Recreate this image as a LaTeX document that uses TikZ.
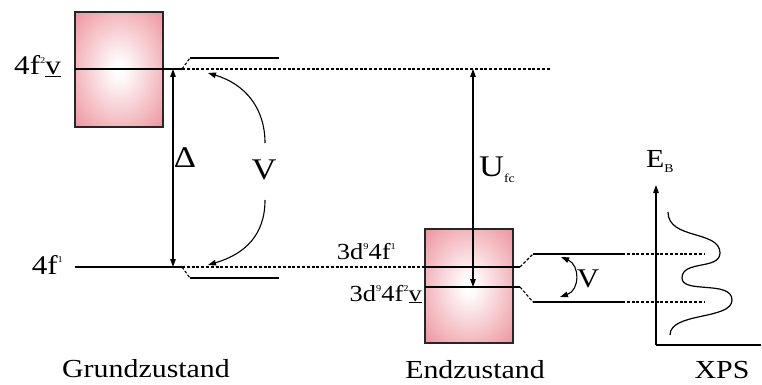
\documentclass[tikz,border=0pt]{standalone}
\usepackage{fontspec}
\setmainfont{Liberation Serif}[FakeStretch=1.15]
\usetikzlibrary{arrows.meta}
\definecolor{pinkc}{RGB}{237,146,156}
\pgfdeclareradialshading{boxglow}{\pgfpoint{0bp}{0bp}}{color(0bp)=(white); color(4bp)=(white!96!pinkc); color(36bp)=(pinkc); color(50bp)=(pinkc)}
\newcommand\hsup[1]{\raisebox{0.42em}{\fontsize{9}{9}\selectfont #1}}
\newcommand\hsub[1]{\raisebox{-0.2em}{\fontsize{12}{12}\selectfont #1}}
\begin{document}
\begin{tikzpicture}[x=1pt,y=-1pt,
  lvl/.style={line width=1.2pt},
  dsh/.style={line width=1.1pt, dash pattern=on 3pt off 1.8pt},
  arr/.style={line width=1.1pt, -{Triangle[length=8pt,width=5.5pt]}},
  darr/.style={line width=1.1pt, {Triangle[length=8pt,width=5.5pt]}-{Triangle[length=8pt,width=5.5pt]}},
  band/.style={shade, shading=boxglow, draw=black!85, line width=1.2pt},
  lbl/.style={inner sep=0pt, font=\fontsize{23}{26}\selectfont},
  lblg/.style={inner sep=0pt, font=\fontsize{27}{30}\selectfont},
  big/.style={inner sep=0pt, font=\fontsize{26}{30}\selectfont},
  sym/.style={inner sep=0pt, font=\fontsize{30}{33}\selectfont}]
\useasboundingbox (0,0) rectangle (762,385);
% bands
\path[band] (75,12) rectangle (163,127);
\path[band] (425,229) rectangle (513,343);
% coordinates
\coordinate (gA1) at (75,69);   \coordinate (gJ1) at (182,69);
\coordinate (gU1) at (190,58);  \coordinate (gU2) at (279,58);
\coordinate (eT) at (550,69);
\coordinate (gB1) at (75,267);  \coordinate (gJ2) at (182,267);
\coordinate (gD1) at (190,278); \coordinate (gD2) at (279,278);
\coordinate (eA1) at (425,267); \coordinate (eJ1) at (520,267);
\coordinate (eU1) at (533,254); \coordinate (eU2) at (622,254); \coordinate (eU3) at (705,254);
\coordinate (eB1) at (425,287); \coordinate (eJ2) at (520,287);
\coordinate (eD1) at (533,302); \coordinate (eD2) at (622,302); \coordinate (eD3) at (705,302);
% ground state levels
\draw[lvl] (gA1) -- (gJ1);
\draw[dsh] (gJ1) -- (gU1);
\draw[lvl] (gU1) -- (gU2);
\draw[dsh] (gJ1) -- (eT);
\draw[lvl] (gB1) -- (gJ2);
\draw[dsh] (gJ2) -- (gD1);
\draw[lvl] (gD1) -- (gD2);
\draw[dsh] (gJ2) -- (eA1);
% final state levels
\draw[lvl] (eA1) -- (eJ1);
\draw[dsh] (eJ1) -- (eU1);
\draw[lvl] (eU1) -- (eU2);
\draw[dsh] (eU2) -- (eU3);
\draw[lvl] (eB1) -- (eJ2);
\draw[dsh] (eJ2) -- (eD1);
\draw[lvl] (eD1) -- (eD2);
\draw[dsh] (eD2) -- (eD3);
% Delta and U_fc arrows
\coordinate (dT) at (173,69); \coordinate (dB) at (173,267);
\draw[darr] (dT) -- (dB);
\coordinate (uT) at (473,69); \coordinate (uB) at (473,287);
\draw[darr] (uT) -- (uB);
% V arcs (left)
\coordinate (vA) at (265,143); \coordinate (vAt) at (208,73);
\coordinate (vB) at (265,200); \coordinate (vBt) at (208,265);
\draw[arr] (vA) .. controls (265,108) and (245,84) .. (vAt);
\draw[arr] (vB) .. controls (265,235) and (245,254) .. (vBt);
% V arc (right)
\coordinate (wA) at (561,257); \coordinate (wB) at (560,297);
\draw[darr] (wA) .. controls (580,265) and (580,290) .. (wB);
% XPS axes
\coordinate (o) at (656,345); \coordinate (yT) at (656,185); \coordinate (xR) at (761,345);
\draw[arr] (o) -- (yT);
\draw[line width=1.2pt] (o) -- (xR);
% spectrum
\coordinate (s0) at (668,212); \coordinate (s1) at (720,253);
\coordinate (s2) at (682,278); \coordinate (s3) at (732,300);
\coordinate (s4) at (670,335);
\draw[line width=1.2pt] (s0) .. controls (668,240) and (720,230) .. (s1)
  .. controls (720,270) and (682,260) .. (s2)
  .. controls (682,294) and (732,280) .. (s3)
  .. controls (732,320) and (670,312) .. (s4);
% labels
\node[lblg, anchor=base east] (l1) at (61,75) {4f\hsup{2}\underline{v}};
\node[lblg, anchor=base east] (l2) at (63,274) {4f\hsup{1}};
\node[lbl, anchor=base east] (l3) at (396,259) {3d\hsup{9}4f\hsup{1}};
\node[lbl, anchor=base east] (l4) at (422,301) {3d\hsup{9}4f\hsup{2}\underline{v}};
\node[sym] (delta) at (185,158) {Δ};
\node[sym] (vl) at (264,170) {V};
\node[sym, font=\fontsize{27}{30}\selectfont] (vr) at (588,279) {V};
\node[sym, anchor=base west] (ufc) at (479,176) {U\hsub{fc}};
\node[sym, font=\fontsize{26}{30}\selectfont, anchor=base west] (eb) at (646,167) {E\hsub{B}};
\node[big, anchor=base] (g) at (146,377) {Grundzustand};
\node[big, anchor=base] (e) at (475,378) {Endzustand};
\node[big, anchor=base] (x) at (722,378) {XPS};
\end{tikzpicture}
\end{document}
